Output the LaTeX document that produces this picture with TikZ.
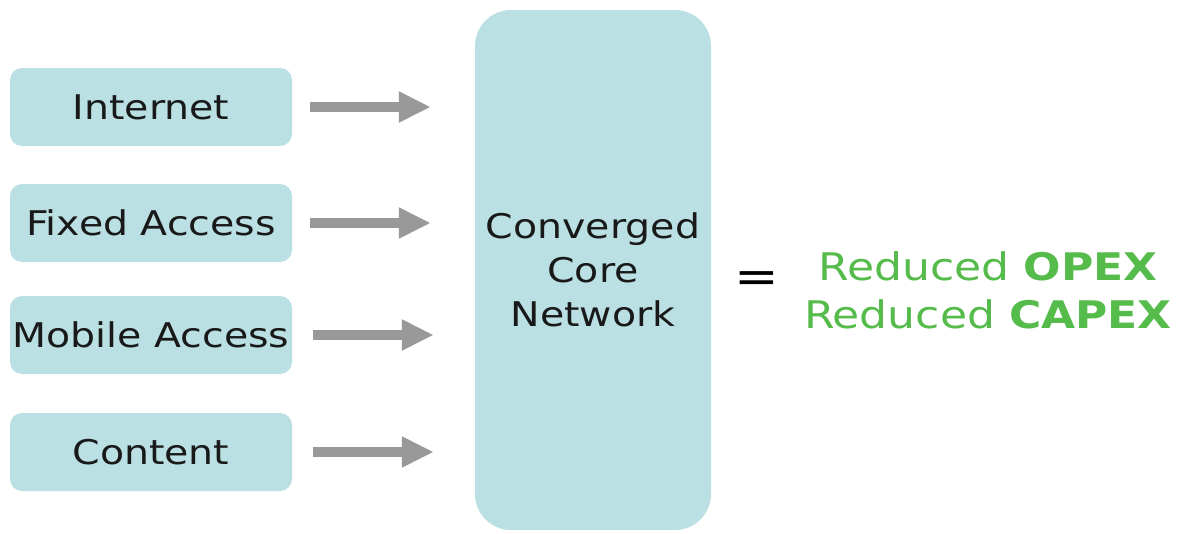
\documentclass[tikz,border=0pt]{standalone}
\usepackage{fontspec}
\setmainfont{DejaVu Sans}[FakeStretch=1.16]
\usetikzlibrary{arrows.meta}
\definecolor{boxc}{HTML}{BAE0E3}
\definecolor{arrc}{HTML}{999999}
\definecolor{grn}{HTML}{55BB4A}
\begin{document}
\begin{tikzpicture}[x=1pt,y=-1pt,
  lbox/.style={fill=boxc, rounded corners=12pt, minimum width=282pt, minimum height=78pt, inner sep=0pt,
    font=\fontsize{34}{40}\selectfont, text=black!90},
  corebox/.style={fill=boxc, rounded corners=36pt, minimum width=236pt, minimum height=520pt, inner sep=0pt,
    align=center, font=\fontsize{34}{44}\selectfont, text=black!90},
  arr/.style={draw=arrc, line width=10pt, -{Triangle[width=29pt,length=32pt]}, shorten <=18pt, shorten >=44pt}
]
\useasboundingbox (0,0) rectangle (1177,533);
\node[corebox] (core) at (593,270) {Converged\\Core\\Network};
\node[lbox] (inet) at (151,107) {Internet};
\node[lbox] (fixed) at (151,223) {Fixed Access};
\node[lbox] (mobile) at (151,335) {Mobile Access};
\node[lbox] (content) at (151,452) {Content};
\draw[arr] (inet.east) -- (inet.east -| core.west);
\draw[arr] (fixed.east) -- (fixed.east -| core.west);
\draw[arr, shorten <=21pt, shorten >=41pt] (mobile.east) -- (mobile.east -| core.west);
\draw[arr, shorten <=21pt, shorten >=41pt] (content.east) -- (content.east -| core.west);
\node (eq) at (757,282) {\fontsize{46}{46}\selectfont =};
\node[text=grn, align=center, font=\fontsize{38}{48}\selectfont] (res) at (988,290)
  {Reduced \textbf{OPEX}\\Reduced \textbf{CAPEX}};
\end{tikzpicture}
\end{document}
